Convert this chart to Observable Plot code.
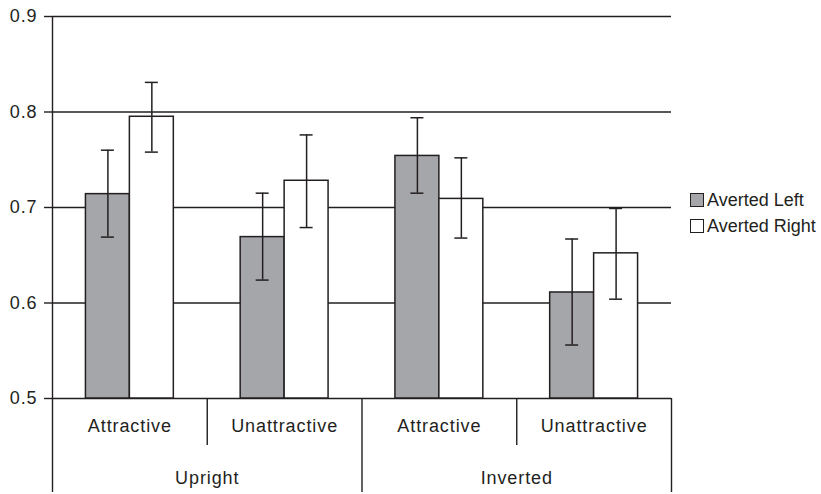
<!DOCTYPE html>
<html>
<head>
<meta charset="utf-8">
<script src="https://cdn.jsdelivr.net/npm/d3@7"></script>
<script src="https://cdn.jsdelivr.net/npm/@observablehq/plot@0.6"></script>
<style>
  html, body { margin: 0; padding: 0; background: #fff; }
  #wrap { position: relative; width: 821px; height: 494px; font-family: "Liberation Sans", Arial, sans-serif; color: #231f20; }
  #legend { position: absolute; left: 690px; top: 187px; font-size: 18px; letter-spacing: 0px; }
  #legend .row { display: flex; align-items: center; height: 26px; }
  #legend .sw { width: 12px; height: 12px; border: 1px solid #231f20; margin-right: 3px; box-sizing: content-box; }
</style>
</head>
<body>
<div id="wrap"><div id="chart"></div><div id="legend"></div></div>
<script>
// ---- data ----
const conditions = ["Upright", "Upright", "Inverted", "Inverted"];
const attractiveness = ["Attractive", "Unattractive", "Attractive", "Unattractive"];
const seriesNames = ["Averted Left", "Averted Right"];
const seriesColors = ["#a5a6a9", "#ffffff"];
const avertedLeft = [0.714, 0.669, 0.754, 0.611];
const avertedLeftLo = [0.669, 0.624, 0.715, 0.556];
const avertedLeftHi = [0.760, 0.715, 0.794, 0.667];
const avertedRight = [0.795, 0.728, 0.709, 0.652];
const avertedRightLo = [0.758, 0.679, 0.668, 0.604];
const avertedRightHi = [0.831, 0.776, 0.752, 0.699];
const yTicks = [0.5, 0.6, 0.7, 0.8, 0.9];
const conditionNames = ["Upright", "Inverted"];

// ---- table ----
const BW = 0.284; // bar width as a fraction of a group slot
const rows = [];
attractiveness.forEach((a, i) => {
  [[avertedLeft, avertedLeftLo, avertedLeftHi], [avertedRight, avertedRightLo, avertedRightHi]].forEach((arr, s) => {
    const c = i + 0.5;
    const x1 = s === 0 ? c - BW : c;
    const x2 = s === 0 ? c : c + BW;
    rows.push({ group: i, cond: conditions[i], attr: a, series: seriesNames[s],
      value: arr[0][i], lo: arr[1][i], hi: arr[2][i], x1, x2, xc: (x1 + x2) / 2 });
  });
});
const subLabels = attractiveness.map((a, i) => ({ x: i + 0.5, label: a }));
const groupLabels = conditionNames.map((c, k) => ({ x: 2 * k + 1, label: c }));
const outerSeps = [0, 2, 4];
const innerSeps = [1, 3];

const ink = "#231f20";
const chart = Plot.plot({
  width: 821,
  height: 494,
  marginLeft: 52,
  marginRight: 150,
  marginTop: 16,
  marginBottom: 96,
  style: { fontFamily: "Liberation Sans, Arial, sans-serif", fontSize: "18px", color: ink, background: "#fff", letterSpacing: "0.9px" },
  x: { type: "linear", domain: [0, 4], axis: null },
  y: { domain: [0.5, 0.9], axis: null },
  color: { domain: seriesNames, range: seriesColors },
  marks: [
    Plot.ruleY(yTicks, { stroke: ink, strokeWidth: 1.4 }),
    Plot.rect(rows, { x1: "x1", x2: "x2", y1: 0.5, y2: "value", fill: "series", stroke: ink, strokeWidth: 1.5 }),
    Plot.ruleX(rows, { x: "xc", y1: "lo", y2: "hi", stroke: ink, strokeWidth: 1.5 }),
    Plot.ruleY(rows, { y: "lo", x1: "xc", x2: "xc", insetLeft: -6.5, insetRight: -6.5, stroke: ink, strokeWidth: 1.5 }),
    Plot.ruleY(rows, { y: "hi", x1: "xc", x2: "xc", insetLeft: -6.5, insetRight: -6.5, stroke: ink, strokeWidth: 1.5 }),
    // y axis
    Plot.ruleX([0], { y1: 0.5, y2: 0.9, stroke: ink, strokeWidth: 1.4 }),
    Plot.axisY({ ticks: yTicks, tickFormat: d3.format(".1f"), tickSize: 8, tickPadding: 7, fontSize: 18, label: null, stroke: ink, strokeWidth: 1.4 }),
    // hierarchical x axis
    Plot.ruleX(outerSeps, { y1: 0.5, y2: 0.5, insetBottom: -94, stroke: ink, strokeWidth: 1.4 }),
    Plot.ruleX(innerSeps, { y1: 0.5, y2: 0.5, insetBottom: -47, stroke: ink, strokeWidth: 1.4 }),
    Plot.text(subLabels, { x: "x", y: 0.5, text: "label", dy: 28, fill: ink, fontSize: 18 }),
    Plot.text(groupLabels, { x: "x", y: 0.5, text: "label", dy: 80, fill: ink, fontSize: 18 })
  ]
});
document.getElementById("chart").appendChild(chart);

// legend
const lg = document.getElementById("legend");
seriesNames.forEach((n, s) => {
  const r = document.createElement("div");
  r.className = "row";
  const sw = document.createElement("div");
  sw.className = "sw";
  sw.style.background = seriesColors[s];
  const t = document.createElement("span");
  t.textContent = n;
  r.appendChild(sw); r.appendChild(t);
  lg.appendChild(r);
});
</script>
</body>
</html>
